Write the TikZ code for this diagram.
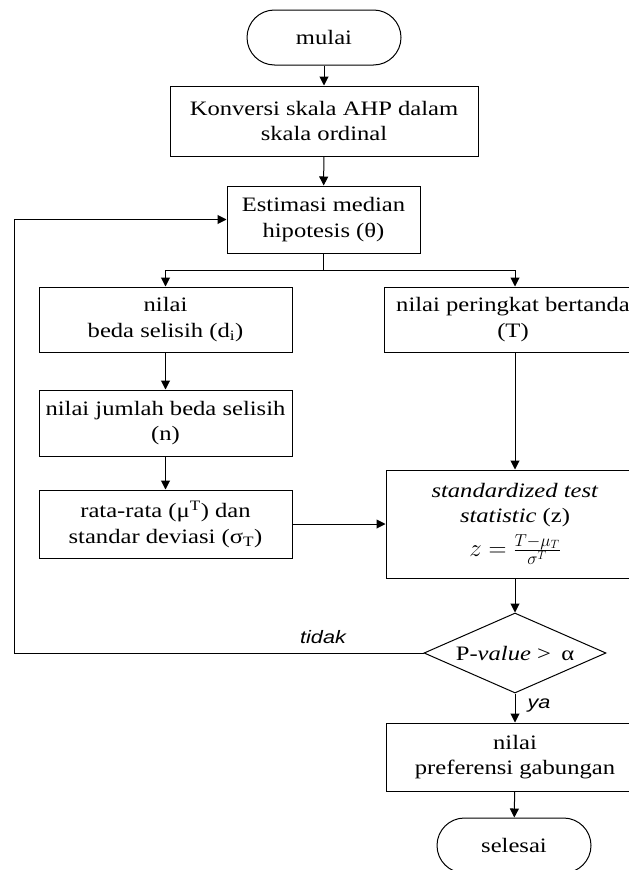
\documentclass[tikz,border=0pt]{standalone}
\usepackage{fontspec}
\setmainfont{Liberation Serif}[FakeStretch=1.2]
\newfontfamily\labelsans{Liberation Sans}[FakeStretch=1.2]
\usetikzlibrary{arrows.meta,shapes.geometric,shapes.misc}
\begin{document}
\begin{tikzpicture}[x=1pt,y=-1pt,
  line width=1pt,
  every node/.style={font=\fontsize{20.5}{25.5}\selectfont, align=center, inner sep=2pt},
  proc/.style={draw, rectangle},
  term/.style={draw, rounded rectangle, minimum width=158pt, minimum height=55pt},
  decision/.style={draw, diamond, aspect=2.275, inner sep=0pt, minimum width=182pt, minimum height=80pt},
  flowlabel/.style={font=\labelsans\itshape\fontsize{18}{20}\selectfont},
  arr/.style={-{Triangle[length=9pt,width=9pt]}}
]
\useasboundingbox (0,0) rectangle (629,870);
\clip (0,0) rectangle (629,870);

% start / end
\node[term] (mulai) at (324,37.5) {mulai};
\node[term] (selesai) at (514,845.5) {selesai};

% main column
\node[proc, minimum width=308pt, minimum height=70pt] (konv) at (324,121)
  {Konversi skala AHP dalam\\skala ordinal};
\node[proc, minimum width=193pt, minimum height=67pt] (est) at (323.5,219.5)
  {Estimasi median\\hipotesis (θ)};

% left branch
\node[proc, minimum width=253pt, minimum height=65pt] (beda) at (165.5,319.5)
  {nilai\\beda selisih (d\textsubscript{i})};
\node[proc, minimum width=253pt, minimum height=66pt] (jumlah) at (165.5,423)
  {nilai jumlah beda selisih\\(n)};
\node[proc, minimum width=253pt, minimum height=68pt] (rata) at (165.5,524)
  {rata-rata (μ\textsuperscript{T}) dan\\standar deviasi (σ\textsubscript{T})};

% right branch
\node[proc, minimum width=258pt, minimum height=65pt] (peringkat) at (513,319.5)
  {nilai peringkat bertanda\\(T)};
\node[proc, minimum width=258pt, minimum height=108pt] (std) at (515,524)
  {\textit{standardized test}\\\textit{statistic} (z)\\[6pt]
   {\fontsize{23}{25}\selectfont $z=\frac{T-\mu_T}{\sigma^T}$}};
\node[decision] (dec) at (515,653) {P-\textit{value} >\enspace α};
\node[proc, minimum width=258pt, minimum height=68pt] (pref) at (515,757)
  {nilai\\preferensi gabungan};

% labels on the decision outputs
\node[flowlabel] (tidak) at (323,637) {tidak};
\node[flowlabel] (ya) at (539,706) {ya};

\coordinate (loopx) at (14,0);

% connectors
\draw[arr] (mulai) -- (konv);
\draw[arr] (konv) -- (est);
\draw (est.south) -- ++(0,17) coordinate (split);
\draw[arr] (split) -| ([xshift=2pt]peringkat.north);
\draw[arr] (split) -| (beda.north);
\draw[arr] (beda) -- (jumlah);
\draw[arr] (jumlah) -- (rata);
\draw[arr] (rata) -- (std);
\draw[arr] ([xshift=2pt]peringkat.south) -- (std);
\draw[arr] (std) -- (dec);
\draw[arr] (dec.west) -- (dec.west -| loopx) |- (est.west);
\draw[arr] (dec) -- (pref);
\draw[arr] (pref) -- (selesai);
\end{tikzpicture}
\end{document}
